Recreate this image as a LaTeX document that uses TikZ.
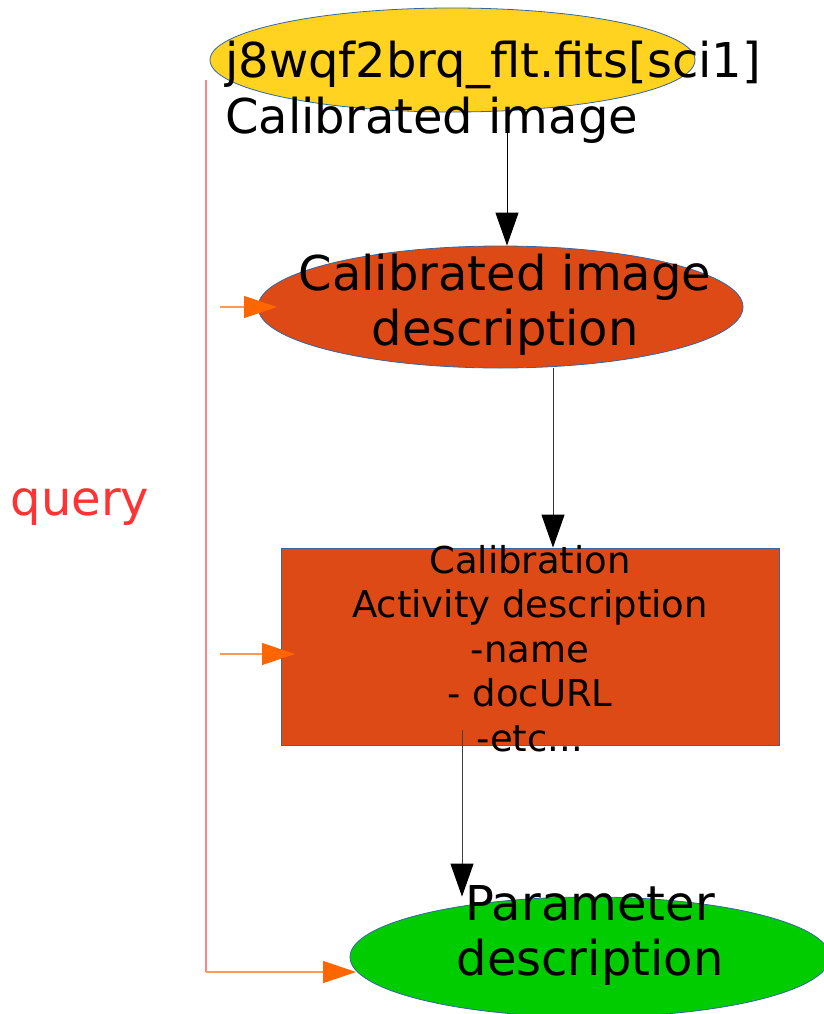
\documentclass[tikz,border=0pt]{standalone}
\usepackage{fontspec}
\setmainfont{DejaVu Sans}
\usepackage{tikz}
\usetikzlibrary{arrows.meta,shapes.geometric,positioning,calc}
\definecolor{imgyellow}{HTML}{FFD320}
\definecolor{descred}{HTML}{DE4A16}
\definecolor{pargreen}{HTML}{00CC00}
\definecolor{edgeblue}{HTML}{3465A4}
\definecolor{queryred}{HTML}{FF3333}
\definecolor{qorange}{HTML}{FF6600}
\definecolor{qstem}{HTML}{FF9955}
\definecolor{qpink}{HTML}{FF8585}
\newcommand{\bigtxt}{\fontsize{48}{55}\selectfont}
\newcommand{\midtxt}{\fontsize{37}{44.5}\selectfont}

\begin{document}
\begin{tikzpicture}[x=1pt,y=-1pt,
  shp/.style={draw=edgeblue,line width=0.8pt,inner sep=0pt},
  blob/.style={shp,ellipse,minimum width=485pt},
  txt/.style={inner sep=0pt,font=\bigtxt},
  arr/.style={line width=1pt,-{Triangle[length=33pt,width=23pt,color=black]}},
  qarr/.style={qstem,line width=1.2pt,-{Triangle[length=33pt,width=22pt,color=qorange]}}]
\useasboundingbox (0,0) rectangle (824,1014);
\node[blob,fill=imgyellow,minimum height=104pt] (img) at (452.5,60) {};
\node[blob,fill=descred,minimum height=122pt] (desc) at (500.5,307) {};
\node[shp,rectangle,fill=descred,minimum width=498pt,minimum height=197pt] (act) at (530,646.5) {};
\node[blob,fill=pargreen,minimum width=480pt,minimum height=120pt] (par) at (590,957) {};

\node[txt,align=left,anchor=base west] (imgtxt) at (225,133) {j8wqf2brq\_flt.fits[sci1]\\Calibrated image};
\node[txt,align=center,anchor=base] (desctxt) at (505,345) {Calibrated image\\description};
\node[txt,font=\midtxt,align=center,anchor=base] (acttxt) at (530,751) {Calibration\\Activity description\\-name\\- docURL\\-etc...};
\node[txt,align=center,anchor=base] (partxt) at (590,975) {Parameter\\description};
\node[txt,text=queryred,anchor=base] (query) at (80,515) {query};

\coordinate (a1) at (507,130);
\coordinate (a2) at (553,368);
\coordinate (a3) at (462,730);
\draw[arr] (a1) -- (a1 |- desc.north);
\draw[arr,black!80] (a2) -- (a2 |- act.north);
\draw[arr,black!75] (a3) -- (a3 |- par.north);

\coordinate (q0) at (206,80);
\coordinate (q1) at (206,972);
\coordinate (q2) at (220,307);
\coordinate (q3) at (220,654);
\draw[qpink,line width=1.2pt] (q0) -- (q1);
\draw[qarr] (q1) -- (356,972);
\draw[qarr] (q2) -- ++(57,0);
\draw[qarr] (q3) -- ++(75,0);
\end{tikzpicture}
\end{document}
